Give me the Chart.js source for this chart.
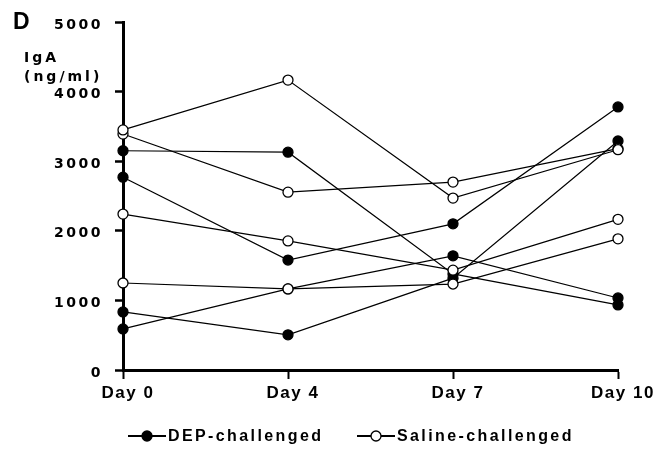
<!DOCTYPE html>
<html>
<head>
<meta charset="utf-8">
<script src="https://cdn.jsdelivr.net/npm/chart.js@4/dist/chart.umd.min.js"></script>
<style>
  body { margin: 0; background: #fff; }
</style>
</head>
<body>
<canvas id="igaChart" width="657" height="451"></canvas>
<script>
// hari pengambilan sampel
const days = ['Day 0', 'Day 4', 'Day 7', 'Day 10'];

// IgA (ng/ml), tiap baris satu hewan
const dep1 = [3150, 3130, 1380, 935];
const dep2 = [2770, 1580, 2100, 3780];
const dep3 = [835, 505, 1320, 3290];
const dep4 = [590, 1165, 1640, 1035];

const sal1 = [3450, 4165, 2470, 3165];
const sal2 = [3390, 2555, 2700, 3180];
const sal3 = [2240, 1855, 1435, 2165];
const sal4 = [1250, 1165, 1235, 1885];

const yTicks = [0, 1000, 2000, 3000, 4000, 5000];

const depSeries = [dep1, dep2, dep3, dep4];
const salSeries = [sal1, sal2, sal3, sal4];

function makeSet(values, filled, label) {
    return {
        label: label,
        data: values,
        borderColor: '#000',
        borderWidth: 1.2,
        tension: 0,
        pointRadius: 5,
        pointHoverRadius: 5,
        pointBorderWidth: 1.3,
        pointBorderColor: '#000',
        pointBackgroundColor: filled ? '#000' : '#fff'
    };
}

// saline di depan supaya lingkaran putih terlihat di atas
const datasets = []
    .concat(salSeries.map((s, i) => makeSet(s, false, 'Saline ' + (i + 1))))
    .concat(depSeries.map((s, i) => makeSet(s, true, 'DEP ' + (i + 1))));

// jarak huruf per sumbu
function spacedLabels(scale, spacing) {
    if (scale._spaced) return;
    const orig = scale.drawLabels;
    scale.drawLabels = function (area) {
        const ctx = this.ctx;
        ctx.save();
        ctx.letterSpacing = spacing;
        orig.call(this, area);
        ctx.restore();
    };
    scale._spaced = true;
}

const extras = {
    id: 'extras',
    afterLayout(chart) {
        spacedLabels(chart.scales.y, '2.5px');
        spacedLabels(chart.scales.x, '1.5px');
    },
    afterDraw(chart) {
        const ctx = chart.ctx;
        ctx.save();
        ctx.fillStyle = '#000';
        ctx.strokeStyle = '#000';
        ctx.textBaseline = 'alphabetic';

        // huruf panel
        ctx.font = 'bold 23px "Liberation Sans"';
        ctx.fillText('D', 13, 29);

        // judul sumbu y
        ctx.letterSpacing = '3px';
        ctx.font = 'bold 14px "DejaVu Sans"';
        ctx.fillText('IgA', 24, 62);
        ctx.fillText('(ng/ml)', 24, 81);

        // legenda
        ctx.letterSpacing = '2.4px';
        ctx.font = 'bold 16px "Liberation Sans"';
        ctx.textBaseline = 'middle';
        const ly = 436;
        const items = [
            { x: 128, text: 'DEP-challenged', fill: '#000' },
            { x: 357, text: 'Saline-challenged', fill: '#fff' }
        ];
        items.forEach(it => {
            ctx.lineWidth = 2;
            ctx.beginPath();
            ctx.moveTo(it.x, ly);
            ctx.lineTo(it.x + 38, ly);
            ctx.stroke();
            ctx.beginPath();
            ctx.arc(it.x + 19, ly, 5, 0, Math.PI * 2);
            ctx.fillStyle = it.fill;
            ctx.fill();
            ctx.lineWidth = 1.3;
            ctx.stroke();
            ctx.fillStyle = '#000';
            ctx.fillText(it.text, it.x + 40, ly + 1);
        });
        ctx.restore();
    }
};

const ctx = document.getElementById('igaChart').getContext('2d');
const igaChart = new Chart(ctx, {
    type: 'line',
    data: { labels: days, datasets: datasets },
    plugins: [extras],
    options: {
        responsive: false,
        animation: false,
        layout: { padding: { top: 22, right: 39, left: 0, bottom: 0 } },
        plugins: {
            legend: { display: false },
            tooltip: { enabled: false }
        },
        scales: {
            x: {
                offset: false,
                afterFit(s) { s.height = 81; },
                border: { display: true, color: '#000', width: 3 },
                grid: { display: true, drawOnChartArea: false, drawTicks: true, tickLength: 9, tickWidth: 2, tickColor: '#000' },
                ticks: {
                    color: '#000',
                    font: { family: 'Liberation Sans', size: 17, weight: 'bold' },
                    padding: 4,
                    labelOffset: 5,
                    maxRotation: 0
                }
            },
            y: {
                min: 0,
                max: 5000,
                afterFit(s) { s.width = 123; },
                afterBuildTicks(s) { s.ticks = yTicks.map(v => ({ value: v })); },
                border: { display: true, color: '#000', width: 3 },
                grid: { display: true, drawOnChartArea: false, drawTicks: true, tickLength: 8, tickWidth: 2.5, tickColor: '#000' },
                ticks: {
                    color: '#000',
                    font: { family: 'DejaVu Sans', size: 14, weight: 'bold' },
                    padding: 12,
                    labelOffset: 3,
                    callback: v => String(v)
                }
            }
        }
    }
});
</script>
</body>
</html>
